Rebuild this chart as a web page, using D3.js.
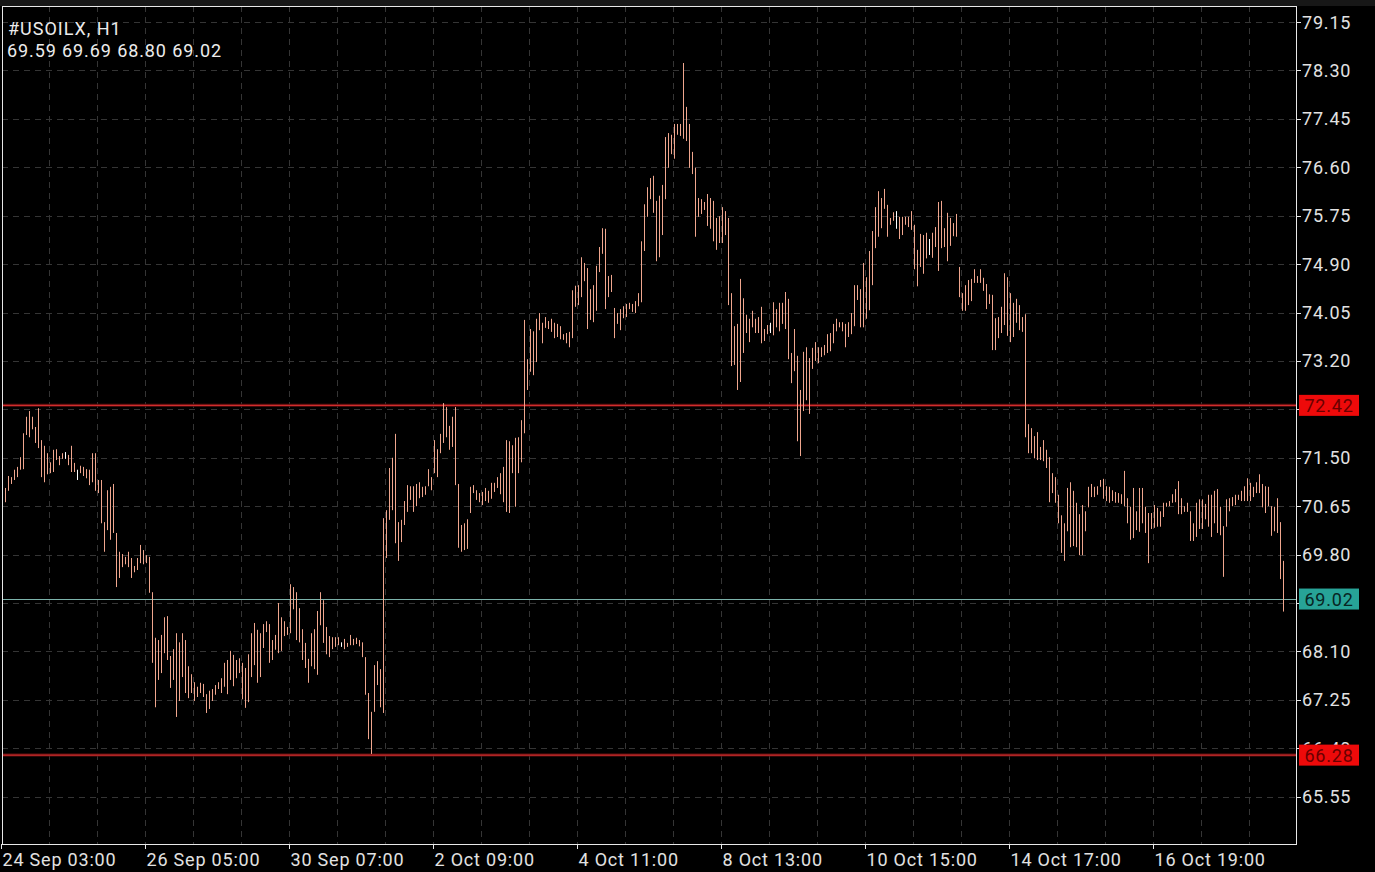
<!DOCTYPE html>
<html><head><meta charset="utf-8">
<script src="https://cdn.jsdelivr.net/npm/d3@7/dist/d3.min.js"></script>
<style>html,body{margin:0;padding:0;background:#000;overflow:hidden}</style>
</head><body><svg id="c" width="1375" height="872"></svg>
<script>
const symbolTitle = "#USOILX, H1";
const lastOHLC = ["69.59", "69.69", "68.80", "69.02"];

const highs = [
70.92,70.97,71.18,71.16,71.29,71.34,71.51,71.93,72.22,72.32,
72.22,72.04,72.37,71.81,71.71,71.58,71.42,71.64,71.65,71.53,
71.58,71.60,71.55,71.71,71.41,71.29,71.36,71.34,71.30,71.29,
71.58,71.58,71.11,71.11,70.37,70.93,70.99,71.04,70.18,69.85,
69.81,69.76,69.85,69.74,69.60,69.74,69.97,69.88,69.79,69.76,
69.14,68.34,68.30,68.39,68.70,68.72,68.02,68.14,68.42,68.26,
68.42,68.30,67.84,67.70,67.56,67.48,67.55,67.53,67.35,67.41,
67.44,67.51,67.56,67.63,67.90,67.95,68.11,68.04,67.95,67.98,
67.90,67.81,68.05,68.42,68.60,68.48,68.42,68.58,68.63,68.58,
68.30,68.39,68.95,68.70,68.63,68.53,69.28,69.23,69.14,68.86,
68.49,68.25,67.97,68.42,68.49,68.81,69.14,69.00,68.53,68.37,
68.35,68.35,68.35,68.26,68.32,68.25,68.39,68.32,68.34,68.30,
68.26,68.00,67.37,67.04,67.86,67.93,67.79,70.44,70.58,71.32,
71.50,71.92,70.37,70.41,70.74,71.02,71.00,71.00,71.04,71.07,
70.99,71.00,71.30,71.16,71.81,71.65,71.92,72.46,72.39,72.06,
72.22,72.39,71.04,70.32,70.35,70.42,70.99,71.02,70.93,70.88,
70.90,70.97,70.92,71.06,71.06,71.16,71.23,71.34,71.81,71.79,
71.72,71.85,71.86,72.16,73.92,73.23,73.76,73.72,73.94,74.04,
73.87,73.97,73.90,73.94,73.87,73.85,73.81,73.67,73.69,73.71,
74.44,74.52,74.53,75.02,74.92,74.83,74.46,74.53,74.87,75.20,
75.53,75.52,74.69,74.71,74.13,74.04,74.11,74.16,74.20,74.22,
74.20,74.25,74.39,75.30,75.95,76.25,76.41,76.45,76.01,76.10,
76.29,77.13,77.20,77.17,77.36,77.36,77.36,78.43,77.66,77.36,
76.87,76.59,76.06,76.04,75.99,76.13,76.06,76.01,75.71,75.74,
75.90,75.83,75.71,74.39,73.81,73.85,74.64,74.30,74.01,73.94,
74.08,73.94,73.97,74.15,73.76,73.83,73.87,74.23,74.11,74.22,
74.22,74.41,74.29,73.34,73.76,73.29,72.69,73.36,73.44,73.25,
73.43,73.53,73.44,73.44,73.48,73.67,73.69,73.85,73.94,73.88,
73.88,73.85,73.88,74.04,74.53,74.53,74.46,74.92,74.67,75.13,
75.48,75.90,76.18,76.06,76.22,75.94,75.71,75.81,75.83,75.73,
75.73,75.73,75.73,75.83,75.59,75.15,75.43,75.41,75.45,75.34,
75.45,75.55,75.99,76.01,75.53,75.80,75.71,75.62,75.78,74.85,
74.39,74.53,74.62,74.64,74.81,74.69,74.81,74.66,74.55,74.37,
74.36,73.95,73.97,74.15,74.74,74.67,74.39,74.22,74.29,74.18,
73.97,74.02,72.09,72.02,71.88,71.95,71.69,71.81,71.64,71.51,
71.23,71.16,70.85,70.49,70.35,70.97,71.07,70.92,70.71,70.51,
70.67,70.56,70.99,71.04,70.99,71.00,71.11,71.13,71.00,70.99,
70.93,70.90,70.88,70.86,71.27,70.79,70.64,70.97,70.56,70.97,
70.97,70.64,70.53,70.53,70.67,70.62,70.56,70.71,70.71,70.74,
70.86,70.95,71.09,70.79,70.65,70.71,70.56,70.35,70.71,70.77,
70.77,70.69,70.85,70.85,70.92,70.95,70.64,70.30,70.77,70.79,
70.81,70.85,70.85,70.92,71.00,71.14,71.06,70.99,71.07,71.21,
71.04,71.00,70.99,70.65,70.64,70.79,70.37,69.69
];

const lows = [
70.44,70.72,70.92,71.04,71.11,71.16,71.29,71.30,71.90,71.86,
72.00,71.76,71.67,71.16,71.07,71.21,71.23,71.25,71.46,71.37,
71.48,71.48,71.37,71.25,71.25,71.11,71.23,71.18,71.14,71.02,
71.07,70.92,70.88,70.35,69.85,70.23,70.06,70.18,69.23,69.39,
69.58,69.63,69.58,69.39,69.49,69.53,69.65,69.63,69.65,69.13,
67.90,67.12,67.60,67.72,68.07,67.95,67.46,67.60,66.95,67.23,
67.65,67.37,67.28,67.37,67.23,67.30,67.37,67.30,67.02,67.09,
67.23,67.34,67.44,67.37,67.48,67.35,67.60,67.49,67.63,67.72,
67.26,67.11,67.21,67.65,67.86,67.55,67.65,68.16,68.44,67.90,
67.95,68.13,68.07,68.11,68.37,68.39,68.42,68.84,68.30,68.26,
67.95,67.81,67.55,67.84,67.79,67.69,68.56,68.25,68.05,68.00,
68.14,68.18,68.21,68.18,68.14,68.18,68.21,68.21,68.23,68.19,
68.00,67.34,66.56,66.30,67.04,67.51,67.12,67.02,69.74,70.41,
70.58,70.00,69.69,70.02,70.32,70.55,70.76,70.55,70.65,70.79,
70.81,70.85,71.00,70.93,71.23,71.16,71.58,71.76,71.86,71.64,
71.69,71.02,69.92,69.85,69.88,69.90,70.53,70.88,70.76,70.72,
70.67,70.74,70.71,70.78,70.90,70.97,70.86,70.72,70.55,70.53,
71.23,70.64,71.23,71.42,71.93,72.69,73.01,72.95,73.18,73.74,
73.51,73.78,73.76,73.71,73.60,73.62,73.58,73.57,73.51,73.44,
73.60,74.15,74.18,74.32,74.60,73.76,73.92,73.88,74.08,74.76,
75.08,74.11,74.32,74.41,73.60,73.85,73.74,73.95,73.97,74.11,
74.06,74.04,74.16,74.23,75.13,75.73,76.04,75.80,74.95,75.02,
75.41,76.04,76.59,76.83,76.75,77.17,77.15,77.10,77.06,76.59,
76.48,75.38,75.73,75.78,75.85,75.57,75.52,75.30,75.15,75.27,
75.27,75.41,74.18,73.11,73.13,72.69,72.83,73.34,73.69,73.53,
73.79,73.69,73.69,73.51,73.55,73.67,73.69,73.65,73.79,73.72,
73.85,73.76,73.23,72.81,73.02,71.79,71.53,72.32,72.51,72.27,
73.06,73.20,73.16,73.27,73.30,73.34,73.37,73.51,73.72,73.79,
73.72,73.44,73.62,73.67,73.81,74.27,73.79,73.79,73.94,74.09,
74.53,75.18,75.38,75.53,75.87,75.38,75.59,75.66,75.52,75.34,
75.41,75.59,75.55,75.50,74.81,74.51,74.85,74.73,75.00,75.06,
75.01,75.20,74.78,75.18,75.20,74.95,75.22,75.39,75.38,74.32,
74.08,74.08,74.18,74.25,74.57,74.57,74.57,74.43,74.11,74.20,
73.39,73.39,73.60,73.69,73.83,73.64,73.53,73.62,73.87,73.74,
73.71,71.86,71.58,71.58,71.49,71.46,71.46,71.44,71.32,70.72,
70.88,70.71,70.35,69.83,69.69,70.21,69.93,69.95,69.93,69.79,
69.79,70.21,70.63,70.81,70.81,70.85,70.99,70.78,70.74,70.71,
70.74,70.71,70.71,70.69,70.65,70.35,70.06,70.09,70.23,70.20,
70.35,70.18,69.65,70.25,70.27,70.29,70.29,70.46,70.64,70.65,
70.71,70.72,70.51,70.51,70.55,70.55,70.04,70.04,70.11,70.25,
70.25,70.42,70.29,70.11,70.35,70.18,70.14,69.41,70.29,70.56,
70.65,70.67,70.76,70.74,70.74,70.74,70.74,70.81,70.88,70.88,
70.63,70.53,70.65,70.13,70.21,70.18,69.37,68.80
];

const flatBars = [21, 25, 113, 256, 298, 309];

const priceTicks = [79.15,78.30,77.45,76.60,75.75,74.90,74.05,73.20,72.35,71.50,70.65,69.80,68.95,68.10,67.25,66.40,65.55];
const timeLabelIndex = [0, 48, 96, 144, 192, 240, 288, 336, 384];
const timeLabels = ["24 Sep 03:00","26 Sep 05:00","30 Sep 07:00","2 Oct 09:00","4 Oct 11:00","8 Oct 13:00","10 Oct 15:00","14 Oct 17:00","16 Oct 19:00"];
const gridEvery = 16;
const redLevels = [72.42, 66.28];
const lastPrice = 69.02;

const W = 1375, H = 872;
const plot = {l: 2, t: 6, r: 1296, b: 844};
const svg = d3.select("#c");
const FONT = "Roboto, 'Noto Sans', sans-serif";

const x = d3.scaleLinear().domain([0, highs.length - 1]).range([2.5, 2.5 + 3 * (highs.length - 1)]);
const y = d3.scaleLinear().domain([65.55, 79.15]).range([796.7, 22]);
const py = v => Math.round(y(v)) + 0.5;

svg.append("rect").attr("width", W).attr("height", H).attr("fill", "#000");
svg.append("rect").attr("width", W).attr("height", plot.t).attr("fill", "#171717");

svg.append("clipPath").attr("id", "clip").append("rect")
  .attr("x", plot.l).attr("y", plot.t).attr("width", plot.r - plot.l).attr("height", plot.b - plot.t);

const g = svg.append("g").attr("clip-path", "url(#clip)");

// grid
g.selectAll("line.hg").data(priceTicks).join("line")
  .attr("x1", plot.l).attr("x2", plot.r)
  .attr("y1", d => py(d)).attr("y2", d => py(d))
  .attr("stroke", "#353535").attr("stroke-dasharray", "6,5");

const vIdx = d3.range(gridEvery, highs.length + gridEvery, gridEvery);
g.selectAll("line.vg").data(vIdx).join("line")
  .attr("x1", d => x(d) - 1).attr("x2", d => x(d) - 1)
  .attr("y1", plot.t).attr("y2", plot.b)
  .attr("stroke", "#353535").attr("stroke-dasharray", "6,5");

// level lines
redLevels.forEach(v => {
  g.append("line").attr("x1", plot.l).attr("x2", plot.r).attr("y1", y(v)).attr("y2", y(v))
    .attr("stroke", "#5e0e0e").attr("stroke-width", 3);
  g.append("line").attr("x1", plot.l).attr("x2", plot.r).attr("y1", y(v)).attr("y2", y(v))
    .attr("stroke", "#e23434").attr("stroke-width", 1);
});
g.append("line").attr("x1", plot.l).attr("x2", plot.r).attr("y1", py(lastPrice)).attr("y2", py(lastPrice))
  .attr("stroke", "#7db3ab").attr("stroke-width", 1);

// bars
const flatSet = new Set(flatBars);
g.selectAll("line.bar").data(highs.map((h, i) => ({i, h, l: lows[i]}))).join("line")
  .attr("x1", d => x(d.i)).attr("x2", d => x(d.i))
  .attr("y1", d => y(d.h)).attr("y2", d => Math.max(y(d.l), y(d.h) + 1))
  .attr("stroke", d => flatSet.has(d.i) ? "#ffffff" : "#f0a68e")
  .attr("stroke-width", 1);

// frame
const frameColor = "#e8e8e8";
svg.append("line").attr("x1", plot.l).attr("x2", plot.r + 1).attr("y1", plot.t + 0.5).attr("y2", plot.t + 0.5).attr("stroke", frameColor);
svg.append("line").attr("x1", plot.l + 0.5).attr("x2", plot.l + 0.5).attr("y1", plot.t).attr("y2", plot.b + 1).attr("stroke", frameColor);
svg.append("line").attr("x1", plot.r + 0.5).attr("x2", plot.r + 0.5).attr("y1", plot.t).attr("y2", plot.b + 1).attr("stroke", frameColor);
svg.append("line").attr("x1", plot.l).attr("x2", plot.r + 1).attr("y1", plot.b + 0.5).attr("y2", plot.b + 0.5).attr("stroke", frameColor);

// right price axis (labels fully covered by a price tag are not drawn, as in the reference)
const tagValues = redLevels.concat([lastPrice]);
const covered = t => tagValues.some(v => Math.abs(y(v) - y(t)) < 6);
const ya = svg.append("g");
ya.selectAll("line").data(priceTicks).join("line")
  .attr("x1", plot.r).attr("x2", plot.r + 5).attr("y1", d => py(d)).attr("y2", d => py(d)).attr("stroke", frameColor);
ya.selectAll("text").data(priceTicks.filter(t => !covered(t))).join("text")
  .attr("x", plot.r + 6).attr("y", d => y(d) + 6.5)
  .attr("fill", "#e2e2e2").attr("font-family", FONT).attr("font-size", 18).attr("letter-spacing", "0.8px")
  .text(d => d.toFixed(2));

// bottom time axis
const xa = svg.append("g");
xa.selectAll("line").data(timeLabelIndex).join("line")
  .attr("x1", d => x(d) - 1).attr("x2", d => x(d) - 1).attr("y1", plot.b).attr("y2", plot.b + 5).attr("stroke", frameColor);
xa.selectAll("text").data(timeLabelIndex).join("text")
  .attr("x", d => x(d)).attr("y", 866)
  .attr("fill", "#e2e2e2").attr("font-family", FONT).attr("font-size", 18).attr("letter-spacing", "0.8px")
  .text((d, k) => timeLabels[k]);

// price tags
function tag(v, fill, textFill) {
  const cy = y(v);
  svg.append("rect").attr("x", plot.r + 3).attr("y", cy - 10.5).attr("width", 60).attr("height", 21).attr("fill", fill);
  svg.append("text").attr("x", plot.r + 33).attr("y", cy + 6.5).attr("text-anchor", "middle")
    .attr("fill", textFill).attr("font-family", FONT).attr("font-size", 18).attr("letter-spacing", "0.8px")
    .text(v.toFixed(2));
}
redLevels.forEach(v => tag(v, "#ee0a0a", "#6a0000"));
tag(lastPrice, "#27a397", "#082523");

// header
svg.append("text").attr("x", 8).attr("y", 35).attr("fill", "#ececec").attr("font-family", FONT)
  .attr("font-size", 18).attr("letter-spacing", "1px").text(symbolTitle);
svg.append("text").attr("x", 7).attr("y", 57).attr("fill", "#ececec").attr("font-family", FONT)
  .attr("font-size", 18).attr("letter-spacing", "0.9px").text(lastOHLC.join(" "));
</script>
</body></html>
